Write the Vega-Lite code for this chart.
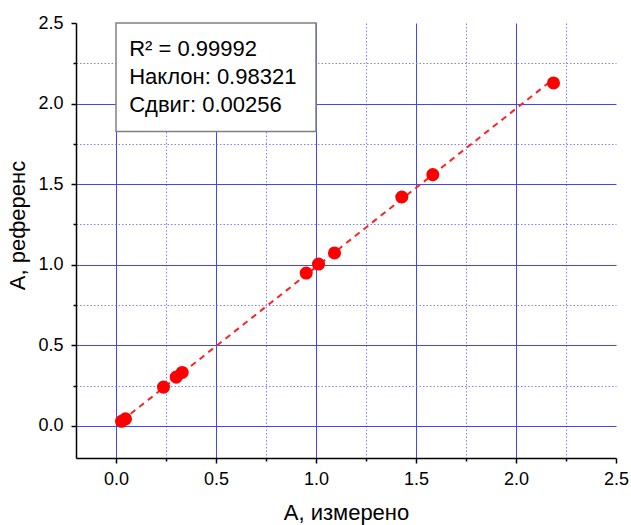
{
  "$schema": "https://vega.github.io/schema/vega-lite/v6.json",
  "width": 540,
  "height": 435,
  "autosize": {"type": "none"},
  "padding": {"left": 76, "top": 23, "right": 15, "bottom": 67},
  "config": {"view": {"stroke": null}, "font": "Liberation Sans"},
  "datasets": {
    "points": [
      {"x": 0.0275, "y": 0.028},
      {"x": 0.0475, "y": 0.043},
      {"x": 0.2375, "y": 0.240},
      {"x": 0.301, "y": 0.302},
      {"x": 0.331, "y": 0.331},
      {"x": 0.951, "y": 0.948},
      {"x": 1.0125, "y": 1.004},
      {"x": 1.0925, "y": 1.073},
      {"x": 1.429, "y": 1.420},
      {"x": 1.584, "y": 1.559},
      {"x": 2.1875, "y": 2.128}
    ],
    "fit": [
      {"x": 0.03, "y": 0.032},
      {"x": 2.19, "y": 2.155}
    ],
    "box": [
      {"x": 0, "x2": 1, "y": 1.826, "y2": 2.5}
    ],
    "notes": [
      {"x": 0.066, "y": 2.294, "text": "R² = 0.99992"},
      {"x": 0.066, "y": 2.122, "text": "Наклон: 0.98321"},
      {"x": 0.066, "y": 1.948, "text": "Сдвиг: 0.00256"}
    ]
  },
  "encoding": {
    "x": {
      "field": "x",
      "type": "quantitative",
      "scale": {"domain": [-0.2, 2.5], "nice": false, "zero": false},
      "axis": {
        "title": "A, измерено",
        "values": [0, 0.25, 0.5, 0.75, 1, 1.25, 1.5, 1.75, 2, 2.25, 2.5],
        "labelExpr": "(datum.value*2) % 1 == 0 ? format(datum.value, '.1f') : ''",
        "labelFontSize": 18,
        "labelColor": "#000000",
        "labelPadding": 7,
        "labelFlush": false,
        "labelOverlap": false,
        "domainColor": "#000000",
        "domainWidth": 1.5,
        "tickColor": "#000000",
        "tickWidth": 1.5,
        "tickSize": {"condition": {"test": "(datum.value*2) % 1 != 0", "value": 3}, "value": 5},
        "grid": true,
        "gridDash": {"condition": {"test": "(datum.value*2) % 1 != 0", "value": [1.5, 2]}, "value": []},
        "gridColor": {"condition": {"test": "(datum.value*2) % 1 != 0", "value": "#8080ff"}, "value": "#4444ff"},
        "gridOpacity": {"condition": {"test": "datum.value >= 2.5", "value": 0}, "value": 1},
        "gridWidth": 1,
        "titleFontSize": 22,
        "titleFontWeight": "normal",
        "titleColor": "#000000",
        "titlePadding": 14
      }
    },
    "y": {
      "field": "y",
      "type": "quantitative",
      "scale": {"domain": [-0.2, 2.5], "nice": false, "zero": false},
      "axis": {
        "title": "A, референс",
        "values": [0, 0.25, 0.5, 0.75, 1, 1.25, 1.5, 1.75, 2, 2.25, 2.5],
        "labelExpr": "(datum.value*2) % 1 == 0 ? format(datum.value, '.1f') : ''",
        "labelFontSize": 18,
        "labelColor": "#000000",
        "labelPadding": 8,
        "labelFlush": false,
        "labelOverlap": false,
        "domainColor": "#000000",
        "domainWidth": 1.5,
        "tickColor": "#000000",
        "tickWidth": 1.5,
        "tickSize": {"condition": {"test": "(datum.value*2) % 1 != 0", "value": 3}, "value": 5},
        "grid": true,
        "gridDash": {"condition": {"test": "(datum.value*2) % 1 != 0", "value": [1.5, 2]}, "value": []},
        "gridColor": {"condition": {"test": "(datum.value*2) % 1 != 0", "value": "#8080ff"}, "value": "#4444ff"},
        "gridOpacity": {"condition": {"test": "datum.value >= 2.5", "value": 0}, "value": 1},
        "gridWidth": 1,
        "titleFontSize": 22,
        "titleFontWeight": "normal",
        "titleColor": "#000000",
        "titlePadding": 8,
        "titleY": 202
      }
    }
  },
  "layer": [
    {
      "data": {"name": "box"},
      "mark": {"type": "rect", "fill": "#ffffff", "stroke": "#808080", "strokeWidth": 1.5},
      "encoding": {
        "x2": {"field": "x2"},
        "y2": {"field": "y2"}
      }
    },
    {
      "data": {"name": "fit"},
      "mark": {"type": "line", "color": "#ff2020", "strokeDash": [6, 5], "strokeWidth": 2}
    },
    {
      "data": {"name": "points"},
      "mark": {"type": "circle", "size": 170, "color": "#ff0000", "opacity": 1}
    },
    {
      "data": {"name": "notes"},
      "mark": {"type": "text", "align": "left", "baseline": "alphabetic", "fontSize": 22, "color": "#000000"},
      "encoding": {"text": {"field": "text"}}
    }
  ]
}
